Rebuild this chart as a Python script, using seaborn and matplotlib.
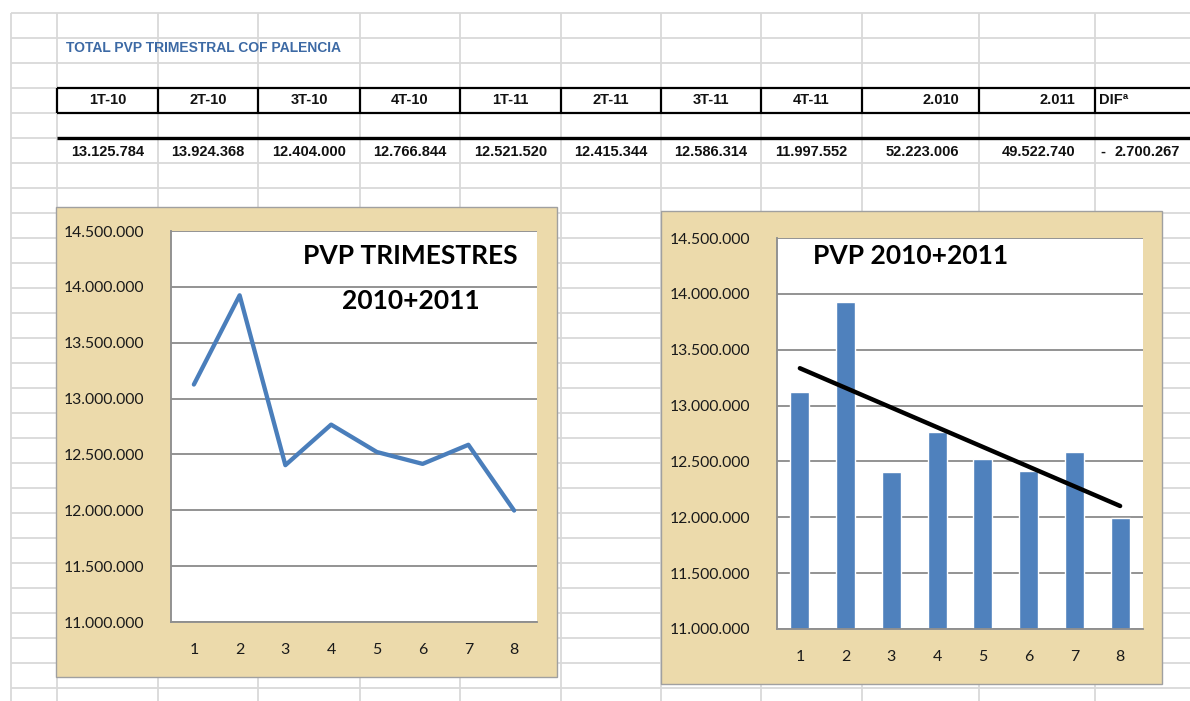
import numpy as np
import matplotlib
matplotlib.use("Agg")
import matplotlib.pyplot as plt
from matplotlib import font_manager
from matplotlib.patches import Rectangle
from matplotlib.ticker import FixedLocator, FuncFormatter
import seaborn as sns

# ---------------- data ----------------
quarters = ["1T-10", "2T-10", "3T-10", "4T-10", "1T-11", "2T-11", "3T-11", "4T-11"]
pvp = [13125784, 13924368, 12404000, 12766844, 12521520, 12415344, 12586314, 11997552]
year_labels = ["2.010", "2.011"]
year_totals = [52223006, 49522740]
diff_label = "DIFª"
diff_value = -2700267
chart_x = ["1", "2", "3", "4", "5", "6", "7", "8"]
y_ticks = [11000000, 11500000, 12000000, 12500000, 13000000, 13500000, 14000000, 14500000]
table_title = "TOTAL PVP TRIMESTRAL COF PALENCIA"
line_title = ["PVP TRIMESTRES", "2010+2011"]
bar_title = "PVP 2010+2011"

# ---------------- fonts ----------------
sns.set_style("white")
names = {f.name for f in font_manager.fontManager.ttflist}
narrow = "Liberation Sans Narrow" if "Liberation Sans Narrow" in names else "Liberation Sans"
chart_font = "Lato" if "Lato" in names else "DejaVu Sans"
plt.rcParams["font.family"] = [chart_font, "DejaVu Sans"]

W, H = 1190, 701
fig = plt.figure(figsize=(W / 100, H / 100), dpi=100)
fig.patch.set_facecolor("white")

bg = fig.add_axes([0, 0, 1, 1])
bg.set_xlim(0, W)
bg.set_ylim(H, 0)
bg.axis("off")

def fmt(v):
    return f"{v:,.0f}".replace(",", ".")

# ---------------- spreadsheet grid ----------------
grid_c = "#d9d9d9"
col_edges = [57, 158, 258, 360, 460, 561, 661, 761, 862, 979, 1095, 1190]
v_cols = [11] + col_edges[:-1]
rows = np.arange(13, H, 25)
bg.vlines(v_cols, 13, H, color=grid_c, lw=1.3, zorder=1)
bg.hlines(rows, 11, W, color=grid_c, lw=1.3, zorder=1)

# table borders
bg.hlines([88, 113], 57, W, color="black", lw=1.6, zorder=2)
bg.vlines(col_edges[:-1], 88, 113, color="black", lw=1.6, zorder=2)
bg.hlines([137.5], 57, W, color="black", lw=2.4, zorder=2)

tfs = 10.5
tkw = dict(fontsize=tfs, fontweight="bold", family=narrow, zorder=3, va="center",
           color="#111111")
bg.text(66, 48, table_title, ha="left", va="center", fontsize=10, fontweight="bold",
        color="#3d6aa5", family=narrow, zorder=3)
for i, q in enumerate(quarters):
    cx = (col_edges[i] + col_edges[i + 1]) / 2
    bg.text(cx, 100.5, q, ha="center", **tkw)
    bg.text(cx, 152, fmt(pvp[i]), ha="center", **tkw)
for j, (lab, tot) in enumerate(zip(year_labels, year_totals)):
    rx = col_edges[8 + j + 1] - 20
    bg.text(rx, 100.5, lab, ha="right", **tkw)
    bg.text(rx, 152, fmt(tot), ha="right", **tkw)
bg.text(1099, 100.5, diff_label, ha="left", **tkw)
bg.text(1100, 152, "-" if diff_value < 0 else "", ha="left", **tkw)
bg.text(1180, 152, fmt(abs(diff_value)), ha="right", **tkw)

# ---------------- chart frames ----------------
papyrus = "#ecdaab"
bg.add_patch(Rectangle((56, 207), 501, 470, facecolor=papyrus, edgecolor="#a0a0a0",
                       lw=1.0, zorder=4))
bg.add_patch(Rectangle((661, 211), 501, 473, facecolor=papyrus, edgecolor="#a0a0a0",
                       lw=1.0, zorder=4))

axis_c = "#8f8f8f"
blue = "#4f81bd"

def style_axis(ax):
    ax.set_facecolor("white")
    ax.set_ylim(11000000, 14500000)
    ax.set_xlim(-0.5, 7.5)
    ax.set_yticks(y_ticks)
    ax.yaxis.set_major_formatter(FuncFormatter(lambda v, p: fmt(v)))
    ax.set_xticks(range(len(chart_x)))
    ax.set_xticklabels(chart_x)
    ax.xaxis.set_minor_locator(FixedLocator(np.arange(-0.5, 8, 1)))
    ax.tick_params(axis="x", which="major", length=0, pad=15, labelsize=11.5,
                   labelcolor="#1a1a1a")
    ax.tick_params(axis="x", which="minor", length=4.5, width=1.2, color=axis_c,
                   direction="out")
    ax.tick_params(axis="y", which="major", length=4.5, width=1.2, color=axis_c,
                   direction="out", pad=14.5, labelsize=11.3, labelcolor="#1a1a1a")
    ax.grid(axis="y", color=axis_c, lw=1.35)
    ax.grid(axis="x", visible=False)
    ax.set_axisbelow(True)
    for s in ["top", "right"]:
        ax.spines[s].set_visible(False)
    for s in ["left", "bottom"]:
        ax.spines[s].set_color(axis_c)
        ax.spines[s].set_linewidth(1.35)
    ax.set_xlabel("")
    ax.set_ylabel("")

# ---------------- left: line chart ----------------
ax1 = fig.add_axes([171 / W, 1 - 622 / H, 366 / W, 391 / H])
sns.lineplot(x=np.arange(len(pvp)), y=pvp, ax=ax1, color="#4a7ebb", lw=3.1)
style_axis(ax1)
ax1.text(410, 256, line_title[0], transform=bg.transData, ha="center", va="center",
         fontsize=19, fontweight="bold", color="black")
ax1.text(411, 301, line_title[1], transform=bg.transData, ha="center", va="center",
         fontsize=19, fontweight="bold", color="black")

# ---------------- right: bar chart + trend ----------------
ax2 = fig.add_axes([777 / W, 1 - 629 / H, 366 / W, 391 / H])
sns.barplot(x=chart_x, y=pvp, ax=ax2, color=blue, width=0.41, saturation=1)
sns.regplot(x=np.arange(len(pvp)), y=np.array(pvp, dtype=float), ax=ax2, scatter=False,
            ci=None, truncate=True, line_kws=dict(color="black", lw=3.2))
style_axis(ax2)
ax2.text(911, 256, bar_title, transform=bg.transData, ha="center", va="center",
         fontsize=19, fontweight="bold", color="black")

fig.savefig("out.png", dpi=100, facecolor="white")
